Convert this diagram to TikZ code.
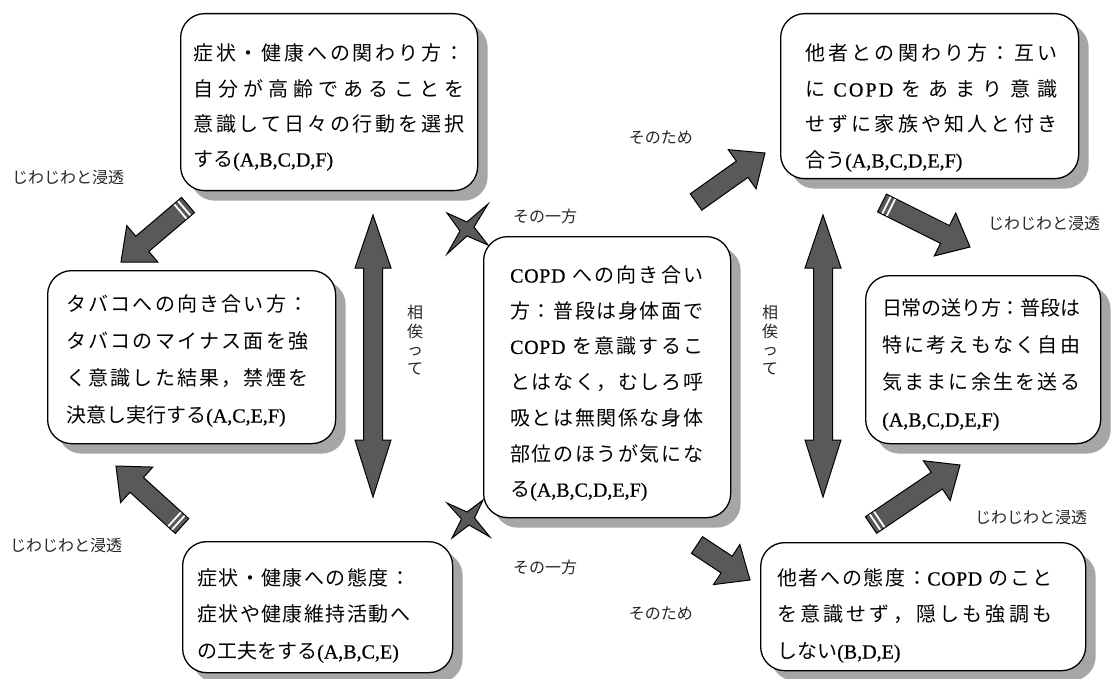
\documentclass[tikz,border=0pt]{standalone}
\usepackage{fontspec}
\setmainfont{Noto Sans CJK JP}[LetterSpace=8]
\newfontfamily\lat{Liberation Serif}[FakeBold=0.6]
\usetikzlibrary{calc,shadows}
% inter-character glue so that lines can be justified like the original
\XeTeXinterchartokenstate=1
\newcount\cc
\newcommand\setcls[3]{\cc=#1\relax\loop\XeTeXcharclass\cc=#3\relax\advance\cc by 1\relax\ifnum\cc<#2\repeat}
\setcls{"3001}{"3100}{7}
\setcls{"4E00}{"A000}{7}
\setcls{"FF01}{"FF60}{7}
\XeTeXcharclass`C=8 \XeTeXcharclass`O=8 \XeTeXcharclass`P=8 \XeTeXcharclass`D=8
\newcommand\jg{\hskip 0pt plus 10pt minus 2pt\relax}
\newcommand\jgl{\hskip 0pt plus 3pt\relax}
\XeTeXinterchartoks 7 7 = {\jg}
\XeTeXinterchartoks 8 8 = {\jgl}
\XeTeXinterchartoks 7 8 = {\jg}
\XeTeXinterchartoks 8 7 = {\jg}
\newcommand\jl[2]{\makebox[#1][s]{#2}}
\tikzset{
 card/.style={draw=black, line width=1.3pt, fill=white, rounded corners=24pt, anchor=north west, inner sep=0pt,
   drop shadow={shadow xshift=10pt, shadow yshift=-10pt, fill=black!35, opacity=1}},
 jt/.style={anchor=base west, inner sep=0pt, font=\fontsize{20}{24}\selectfont},
 lbl/.style={anchor=base west, inner sep=0pt, font=\fontsize{16}{20}\selectfont, text=black!85},
 lblr/.style={lbl, anchor=base east},
 vlbl/.style={anchor=north, inner sep=0pt, align=center, font=\fontsize{16}{18.5}\selectfont, text=black!85},
 blk/.style={draw=black, line width=1pt, fill=black!65, line join=miter},
}
\newcommand\blkarrow[2]{%
  \coordinate (hb) at ($(#2)!28pt!(#1)$);
  \draw[blk] ($(#1)!10pt!90:(#2)$) -- ($(hb)!10pt!90:(#2)$) -- ($(hb)!24pt!90:(#2)$) -- (#2)
    -- ($(hb)!24pt!-90:(#2)$) -- ($(hb)!10pt!-90:(#2)$) -- ($(#1)!10pt!-90:(#2)$) -- cycle;}
\newcommand\tailstripes[2]{%
  \foreach \d in {5,10} {
    \coordinate (sp) at ($(#1)!\d pt!(#2)$);
    \draw[white, line width=1.8pt] ($(sp)!9.3pt!90:(#2)$) -- ($(sp)!9.3pt!-90:(#2)$);
  }}
\newcommand\dblarrow[2]{%
  \draw[blk] (#1) -- ++(18,53) -- ++(-8.5,0) -- ($(#2)+(9.5,-57)$) -- ++(8.5,0) -- (#2)
    -- ++(-18,-57) -- ++(8.5,0) -- ($(#1)+(-9.5,53)$) -- ++(-8.5,0) -- cycle;}
\begin{document}
\begin{tikzpicture}[x=1pt,y=-1pt]
\useasboundingbox (0,0) rectangle (1118,679);
\fill[white] (0,0) rectangle (1118,679);

% boxes
\node[card, minimum width=297pt, minimum height=177pt] (tl) at (180,13) {};
\node[card, minimum width=288pt, minimum height=173pt] (lm) at (47,270) {};
\node[card, minimum width=270pt, minimum height=131pt] (bl) at (182,541) {};
\node[card, minimum width=247pt, minimum height=281pt] (c) at (483,236) {};
\node[card, minimum width=298pt, minimum height=165pt] (tr) at (780,13) {};
\node[card, minimum width=235pt, minimum height=168pt] (rm) at (865,275) {};
\node[card, minimum width=325pt, minimum height=128pt] (br) at (760,542) {};

% texts
\node[jt] (tl1) at (193,60.5) {\jl{271pt}{症状・健康への関わり方：}};
\node[jt] (tl2) at (193,96.5) {\jl{271pt}{自分が高齢であることを}};
\node[jt] (tl3) at (193,131.5) {\jl{271pt}{意識して日々の行動を選択}};
\node[jt] (tl4) at (193,166.5) {する{\lat (A,B,C,D,F)}};

\node[jt] (lm1) at (66,311.5) {\jl{242pt}{タバコへの向き合い方：}};
\node[jt] (lm2) at (66,348.5) {\jl{242pt}{タバコのマイナス面を強}};
\node[jt] (lm3) at (66,385.5) {\jl{242pt}{く意識した結果，禁煙を}};
\node[jt] (lm4) at (66,422.5) {決意し実行する{\lat (A,C,E,F)}};

\node[jt] (bl1) at (197,585.5) {\jl{213pt}{症状・健康への態度：}};
\node[jt] (bl2) at (197,621.5) {\jl{213pt}{症状や健康維持活動へ}};
\node[jt] (bl3) at (197,658.5) {の工夫をする{\lat (A,B,C,E)}};

\node[jt] (c1) at (510,282.5) {\jl{193pt}{{\lat COPD} への向き合い}};
\node[jt] (c2) at (510,318.2) {\jl{193pt}{方：普段は身体面で}};
\node[jt] (c3) at (510,353.9) {\jl{193pt}{{\lat COPD} を意識するこ}};
\node[jt] (c4) at (510,389.6) {\jl{193pt}{とはなく，むしろ呼}};
\node[jt] (c5) at (510,425.3) {\jl{193pt}{吸とは無関係な身体}};
\node[jt] (c6) at (510,461) {\jl{193pt}{部位のほうが気にな}};
\node[jt] (c7) at (510,496.7) {る{\lat (A,B,C,D,E,F)}};

\node[jt] (tr1) at (805,60.5) {\jl{252pt}{他者との関わり方：互い}};
\node[jt] (tr2) at (805,96.5) {\jl{252pt}{に {\lat COPD} をあまり意識}};
\node[jt] (tr3) at (805,131.5) {\jl{252pt}{せずに家族や知人と付き}};
\node[jt] (tr4) at (805,167.5) {合う{\lat (A,B,C,D,E,F)}};

\node[jt] (rm1) at (882,315.5) {\jl{198pt}{日常の送り方：普段は}};
\node[jt] (rm2) at (882,352.5) {\jl{198pt}{特に考えもなく自由}};
\node[jt] (rm3) at (882,389.5) {\jl{198pt}{気ままに余生を送る}};
\node[jt] (rm4) at (882,426.5) {{\lat (A,B,C,D,E,F)}};

\node[jt] (br1) at (777,585.5) {\jl{275pt}{他者への態度：{\lat COPD} のこと}};
\node[jt] (br2) at (777,621.5) {\jl{275pt}{を意識せず，隠しも強調も}};
\node[jt] (br3) at (777,658.5) {しない{\lat (B,D,E)}};

% labels
\node[lbl] (jw1) at (12,184) {じわじわと浸透};
\node[lbl] (jw2) at (10,551) {じわじわと浸透};
\node[lbl] (jw3) at (988,229) {じわじわと浸透};
\node[lbl] (jw4) at (975,523) {じわじわと浸透};
\node[lbl] (so1) at (513,222) {その一方};
\node[lbl] (so2) at (513,573) {その一方};
\node[lblr] (ta1) at (693,144) {そのため};
\node[lblr] (ta2) at (693,619) {そのため};
\node[vlbl] (ai1) at (415,305) {相\\俟\\っ\\て};
\node[vlbl] (ai2) at (770,305) {相\\俟\\っ\\て};

% striped arrows
\coordinate (a1s) at (188,205); \coordinate (a1e) at (121,262);
\coordinate (a2s) at (182,526); \coordinate (a2e) at (116,466);
\coordinate (a3s) at (882,203); \coordinate (a3e) at (970,247);
\coordinate (a4s) at (871,525); \coordinate (a4e) at (960,465);
\blkarrow{a1s}{a1e}\tailstripes{a1s}{a1e}
\blkarrow{a2s}{a2e}\tailstripes{a2s}{a2e}
\blkarrow{a3s}{a3e}\tailstripes{a3s}{a3e}
\blkarrow{a4s}{a4e}\tailstripes{a4s}{a4e}
% plain arrows
\coordinate (a5s) at (696,202); \coordinate (a5e) at (765,153);
\coordinate (a6s) at (697,545); \coordinate (a6e) at (750,580);
\blkarrow{a5s}{a5e}
\blkarrow{a6s}{a6e}

% double arrows
\coordinate (d1t) at (373,215); \coordinate (d1b) at (373,497);
\coordinate (d2t) at (823,215); \coordinate (d2b) at (823,497);
\dblarrow{d1t}{d1b}
\dblarrow{d2t}{d2b}

% stars
\coordinate (st1) at (467,229);
\draw[blk] ($(st1)+(21,-25)$) -- ($(st1)+(7,-2)$) -- ($(st1)+(21,16)$) -- ($(st1)+(0,7)$)
  -- ($(st1)+(-20,25)$) -- ($(st1)+(-7,2)$) -- ($(st1)+(-20,-16)$) -- ($(st1)+(0,-7)$) -- cycle;
\coordinate (st2) at (468,518);
\draw[blk] ($(st2)+(-21,-15)$) -- ($(st2)+(-1,-6)$) -- ($(st2)+(15,-18)$) -- ($(st2)+(6.5,0)$)
  -- ($(st2)+(22,19)$) -- ($(st2)+(1,7)$) -- ($(st2)+(-16,20)$) -- ($(st2)+(-6.5,1)$) -- cycle;
\end{tikzpicture}
\end{document}
